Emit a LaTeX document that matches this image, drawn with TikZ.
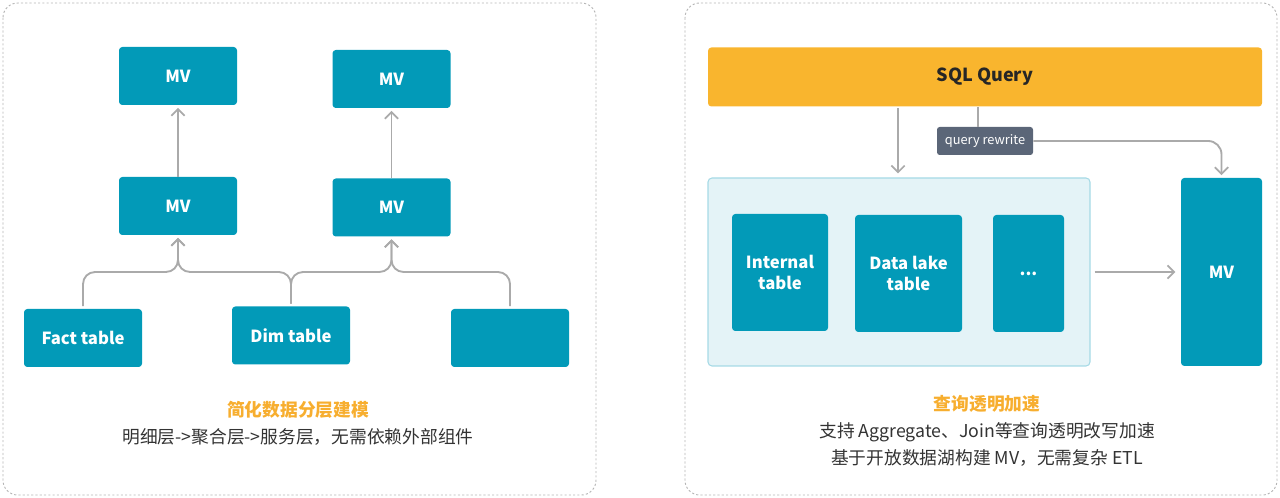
\documentclass[tikz,border=0pt]{standalone}
\usepackage{fontspec}
\setmainfont{Noto Sans CJK SC}
\usetikzlibrary{arrows.meta}

\definecolor{boxteal}{HTML}{029AB8}
\definecolor{sqlorange}{HTML}{F9B52E}
\definecolor{capgold}{HTML}{F7AE2F}
\definecolor{bodytext}{HTML}{333333}
\definecolor{linkgray}{HTML}{AAAAAA}
\definecolor{panelgray}{HTML}{B5B5B5}
\definecolor{tagslate}{HTML}{5B6678}
\definecolor{lakefill}{HTML}{E4F3F7}
\definecolor{lakeedge}{HTML}{A6DAE6}

\begin{document}
\begin{tikzpicture}[x=0.75pt,y=-0.75pt,
  dims/.style 2 args={minimum width=#1*0.75pt, minimum height=#2*0.75pt, inner sep=0pt},
  tbox/.style={fill=boxteal, draw=none, rounded corners=2.5pt, text=white,
    font=\bfseries\fontsize{12.5}{15.5}\selectfont, align=center},
  panel/.style={draw=panelgray, line width=0.7pt, dash pattern=on 1.6pt off 1.6pt, rounded corners=11pt},
  link/.style={draw=linkgray, line width=1.4pt, -{Straight Barb[length=5pt,width=10pt,line width=1.3pt]}},
  plainlink/.style={draw=linkgray, line width=1.4pt},
  caption/.style={text=capgold, font=\bfseries\fontsize{13.3}{16}\selectfont},
  bodyline/.style={text=bodytext, font=\fontsize{13.3}{16}\selectfont}
]
\useasboundingbox (0,0) rectangle (1280,498);

% dashed frames of the two panels
\draw[panel] (3,3) rectangle (596,495);
\draw[panel] (685,3) rectangle (1277,495);

% ---------- layered modelling ----------
\node[tbox, dims={118}{58}] (mvA2) at (178,76) {MV};
\node[tbox, dims={118}{58}] (mvB2) at (391.5,79) {MV};
\node[tbox, dims={118}{58}] (mvA1) at (178,206) {MV};
\node[tbox, dims={118}{58}] (mvB1) at (391.5,207.5) {MV};
\node[tbox, dims={118}{58}] (fact) at (83,338) {Fact table};
\node[tbox, dims={118}{58}] (dim) at (291,335.5) {Dim table};
\node[tbox, dims={118}{58}] (extra) at (510,338) {};

\coordinate (bus) at (0,272);

\draw[link, shorten >=2pt] (mvA1.north) -- (mvA2.south);
\draw[link, shorten >=2pt] (mvB1.north) -- (mvB2.south);

\draw[link, rounded corners=9pt, shorten <=2pt, shorten >=2pt]
  (fact.north) -- (fact.north |- bus) -- (mvA1.south |- bus) -- (mvA1.south);
\draw[link, rounded corners=9pt, shorten <=2pt, shorten >=2pt]
  (dim.north) -- (dim.north |- bus) -- (mvA1.south |- bus) -- (mvA1.south);
\draw[link, rounded corners=9pt, shorten <=2pt, shorten >=2pt]
  (dim.north) -- (dim.north |- bus) -- (mvB1.south |- bus) -- (mvB1.south);
\draw[link, rounded corners=9pt, shorten <=2pt, shorten >=2pt]
  (extra.north) -- (extra.north |- bus) -- (mvB1.south |- bus) -- (mvB1.south);

\node[caption] (capL) at (298,410) {简化数据分层建模};
\node[bodyline] (txtL) at (298,437) {明细层->聚合层->服务层，无需依赖外部组件};

% ---------- transparent query acceleration ----------
\node[fill=sqlorange, rounded corners=2.5pt, dims={554}{59},
  font=\bfseries\fontsize{13.5}{16}\selectfont, text=black!85] (sql) at (985,77) {SQL Query};
\node[fill=tagslate, rounded corners=2pt, dims={96}{28}, text=white,
  font=\fontsize{9.6}{11}\selectfont] (tag) at (985,141) {query rewrite};

\node[fill=lakefill, draw=lakeedge, line width=0.8pt, rounded corners=3pt, dims={382}{188}] (lake) at (899,272) {};
\node[tbox, dims={96}{117}] (internal) at (780,272.5) {Internal\\table};
\node[tbox, dims={107}{117}] (datalake) at (908.5,273.5) {Data lake\\table};
\node[tbox, dims={71}{117}] (more) at (1028.5,273.5) {...};
\node[tbox, dims={81}{188}] (mvR) at (1221.5,272) {MV};

\coordinate (qdown) at (898,0);
\coordinate (qrw) at (978,0);

\draw[link, shorten <=1pt, shorten >=3pt] (sql.south -| qdown) -- (lake.north -| qdown);
\draw[plainlink] (sql.south -| qrw) -- (tag.north -| qrw);
\draw[link, rounded corners=10pt, shorten >=2pt] (tag.east) -- (mvR.north |- tag.east) -- (mvR.north);
\draw[link, shorten <=3pt, shorten >=4pt] (lake.east) -- (mvR.west);

\node[caption] (capR) at (987,404) {查询透明加速};
\node[bodyline] (txtR1) at (987,432) {支持 Aggregate、Join等查询透明改写加速};
\node[bodyline] (txtR2) at (987,458) {基于开放数据湖构建 MV，无需复杂 ETL};
\end{tikzpicture}
\end{document}
